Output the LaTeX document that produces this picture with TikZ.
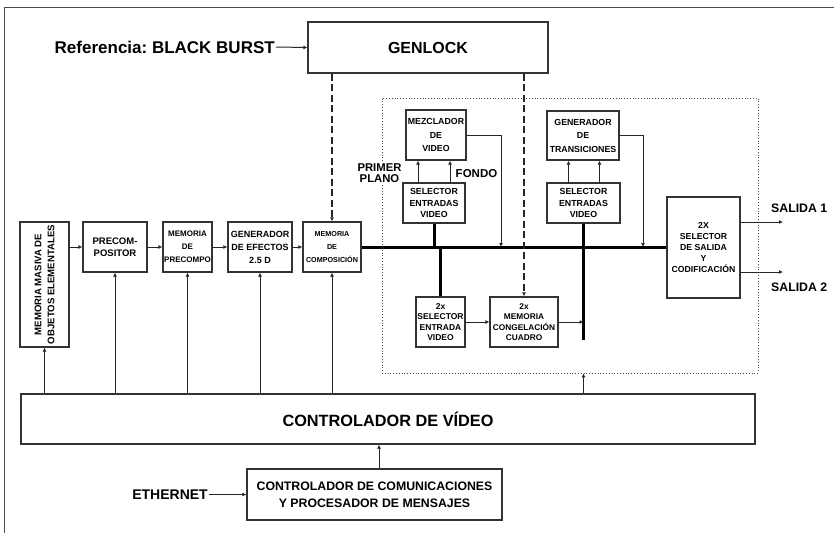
\documentclass[tikz,border=0pt]{standalone}
\usepackage{fontspec}
\setmainfont{Liberation Sans}
\usetikzlibrary{arrows.meta}
\frenchspacing
\begin{document}
\begin{tikzpicture}[x=1pt,y=-1pt,
  ln/.style={draw=black!85, line width=1pt},
  arr/.style={ln, -{Latex[length=4pt,width=4pt]}},
  bus/.style={draw=black, line width=3pt},
  box/.style={draw=black!80, line width=1.3pt, inner sep=0pt, align=center, font=\bfseries},
  lab/.style={inner sep=1pt, align=center, font=\bfseries},
  dsh/.style={ln, line width=1.1pt, dash pattern=on 7pt off 3.5pt}
]
\useasboundingbox (0,0) rectangle (834,533);
\fill[white] (0,0) rectangle (834,533);
% frame
\draw[draw=black!70, line width=1pt] (4,533) -- (4,7) -- (834,7);

% genlock
\node[box, minimum width=240pt, minimum height=51pt, font=\bfseries\fontsize{16}{16}\selectfont] (genlock) at (428,47.5) {GENLOCK};
\node[lab, anchor=east, font=\bfseries\fontsize{17}{17}\selectfont] (ref) at (276,47) {Referencia: BLACK BURST};
\draw[arr] (ref.east) -- (genlock.west);

% left chain
\node[box, minimum width=49pt, minimum height=125pt] (mm) at (44.5,284.5) {};
\node[lab, rotate=90, font=\bfseries\fontsize{9.6}{13}\selectfont] (mmt) at (mm.center) {MEMORIA MASIVA DE\\OBJETOS ELEMENTALES};
\node[box, minimum width=64pt, minimum height=50pt, font=\bfseries\fontsize{9.5}{12}\selectfont] (pre) at (115,247) {PRECOM-\\POSITOR};
\node[box, minimum width=49pt, minimum height=50pt, font=\bfseries\fontsize{8}{13}\selectfont] (mpre) at (187.5,247) {MEMORIA\\DE\\PRECOMPO};
\node[box, minimum width=64pt, minimum height=50pt, font=\bfseries\fontsize{9}{13}\selectfont] (gen) at (260,247) {GENERADOR\\DE EFECTOS\\2.5 D};
\node[box, minimum width=58pt, minimum height=50pt, font=\bfseries\fontsize{7.2}{13}\selectfont] (mcomp) at (332,247) {MEMORIA\\DE\\COMPOSICIÓN};
\draw[arr] (mm.east |- pre.west) -- (pre.west);
\draw[arr] (pre.east) -- (mpre.west);
\draw[arr] (mpre.east) -- (gen.west);
\draw[arr] (gen.east) -- (mcomp.west);

% controllers
\node[box, minimum width=734pt, minimum height=50pt, font=\bfseries\fontsize{16.3}{16.3}\selectfont] (ctrl) at (388,419) {CONTROLADOR DE VÍDEO};
\node[box, minimum width=255pt, minimum height=51pt, font=\bfseries\fontsize{12.3}{17}\selectfont] (comms) at (374.5,494.5) {CONTROLADOR DE COMUNICACIONES\\Y PROCESADOR DE MENSAJES};
\node[lab, anchor=east, font=\bfseries\fontsize{14}{14}\selectfont] (eth) at (209,494.5) {ETHERNET};
\draw[arr] (eth.east) -- (comms.west);
\coordinate (cu) at ([xshift=4.5pt]comms.north);
\draw[arr] (cu) -- (cu |- ctrl.south);
\foreach \n in {mm,pre,mpre,gen,mcomp}
  \draw[arr] (ctrl.north -| \n.south) -- (\n.south);

% dotted box
\node[draw=black!70, line width=0.8pt, dotted, minimum width=376pt, minimum height=275pt, inner sep=0pt] (dbox) at (570,235.5) {};

% upper inner blocks
\node[box, minimum width=60pt, minimum height=50pt, font=\bfseries\fontsize{8.8}{13.5}\selectfont] (mez) at (436,135) {MEZCLADOR\\DE\\VIDEO};
\node[box, minimum width=62pt, minimum height=40pt, font=\bfseries\fontsize{8.8}{11.5}\selectfont] (selL) at (434,203) {SELECTOR\\ENTRADAS\\VIDEO};
\node[box, minimum width=72pt, minimum height=49pt, font=\bfseries\fontsize{8.8}{13.5}\selectfont] (gtr) at (583,135.5) {GENERADOR\\DE\\TRANSICIONES};
\node[box, minimum width=73pt, minimum height=40pt, font=\bfseries\fontsize{8.8}{11.5}\selectfont] (selR) at (583.5,203) {SELECTOR\\ENTRADAS\\VIDEO};
\draw[arr] ([xshift=-16pt]selL.north) -- ([xshift=-16pt]selL.north |- mez.south);
\draw[arr] ([xshift=16pt]selL.north) -- ([xshift=16pt]selL.north |- mez.south);
\draw[arr] ([xshift=-15pt]selR.north) -- ([xshift=-15pt]selR.north |- gtr.south);
\draw[arr] ([xshift=16pt]selR.north) -- ([xshift=16pt]selR.north |- gtr.south);
\node[lab, fill=white, font=\bfseries\fontsize{11.3}{11.5}\selectfont] (pp) at (379.5,173) {PRIMER\\PLANO};
\node[lab, font=\bfseries\fontsize{11.5}{11.5}\selectfont] (fondo) at (476.5,174) {FONDO};

% lower inner blocks
\node[box, minimum width=49pt, minimum height=50pt, font=\bfseries\fontsize{8.5}{10.5}\selectfont] (sel2) at (440.5,322) {2x\\SELECTOR\\ENTRADA\\VIDEO};
\node[box, minimum width=68pt, minimum height=50pt, font=\bfseries\fontsize{8.3}{10.5}\selectfont] (mcong) at (524,322) {2x\\MEMORIA\\CONGELACIÓN\\CUADRO};

% output block
\node[box, minimum width=73pt, minimum height=101pt, font=\bfseries\fontsize{8.7}{11.2}\selectfont] (out) at (703.5,247.5) {2X\\SELECTOR\\DE SALIDA\\Y\\CODIFICACIÓN};

% bus
\coordinate (busL) at (mcomp.east);
\coordinate (busR) at (mcomp.east -| out.west);
\draw[bus] (busL) -- (busR);
\draw[bus] (selL.south) -- (selL.south |- busL);
\draw[bus] (sel2.north |- busL) -- (sel2.north);
\coordinate (vbot) at (583.5,340);
\draw[bus] (selR.south) -- (vbot);
\draw[arr] (sel2.east) -- (mcong.west);
\draw[arr] (mcong.east) -- (mcong.east -| vbot);

% feedback lines
\coordinate (mz1) at (501,135);
\draw[arr] (mez.east) -- (mz1) -- (mz1 |- busL);
\coordinate (gt1) at (643,135.5);
\draw[arr] (gtr.east) -- (gt1) -- (gt1 |- busL);

% genlock dashed
\draw[dsh, -{Latex[length=4pt,width=4pt]}] (genlock.south -| mcomp.north) -- (mcomp.north);
\draw[dsh, -{Latex[length=4pt,width=4pt]}] (genlock.south -| mcong.north) -- (mcong.north);

% controller to dotted box
\draw[arr] (ctrl.north -| vbot) -- (dbox.south -| vbot);

% outputs
\coordinate (s1) at (783,222);
\coordinate (s2) at (783,272);
\draw[arr] (s1 -| out.east) -- (s1);
\draw[arr] (s2 -| out.east) -- (s2);
\node[lab, anchor=west, font=\bfseries\fontsize{12.3}{12.3}\selectfont] (sal1) at (770,208) {SALIDA 1};
\node[lab, anchor=west, font=\bfseries\fontsize{12.3}{12.3}\selectfont] (sal2) at (770,287) {SALIDA 2};
\end{tikzpicture}
\end{document}
